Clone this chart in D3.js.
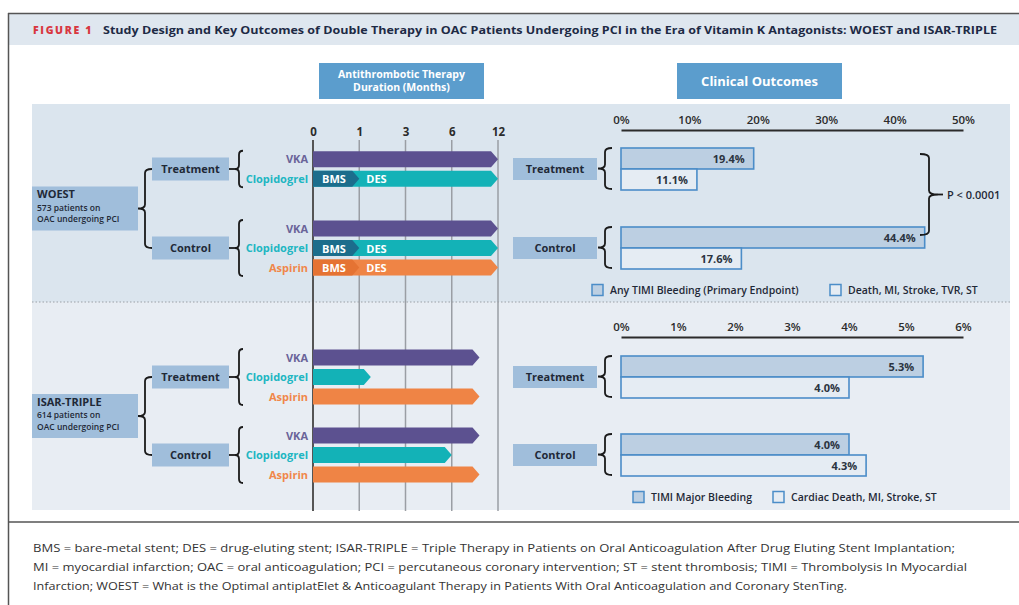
<!DOCTYPE html>
<html>
<head>
<meta charset="utf-8">
<script src="https://cdn.jsdelivr.net/npm/d3@7"></script>
<style>
  body { margin: 0; background: #fff; }
  svg text { font-family: "Open Sans", "Noto Sans", sans-serif; }
</style>
</head>
<body>
<svg id="fig"></svg>
<script>
// ---- data ----
const monthTicks = [0, 1, 3, 6, 12];
const armNames = ["Treatment", "Control"];

const woestDrugs = [["VKA", "Clopidogrel"], ["VKA", "Clopidogrel", "Aspirin"]];
const woestMonths = [[12, 12], [12, 12, 12]];
const woestBmsMonths = [[0, 1], [0, 1, 1]];      // BMS part of the bar (0 = none)

const isarDrugs = [["VKA", "Clopidogrel", "Aspirin"], ["VKA", "Clopidogrel", "Aspirin"]];
const isarMonths = [[9.6, 1.5, 9.6], [9.6, 6, 9.6]];
const isarBmsMonths = [[0, 0, 0], [0, 0, 0]];

const woestPctTicks = [0, 10, 20, 30, 40, 50];
const woestBleeding = [19.4, 44.4];
const woestEvents = [11.1, 17.6];
const woestLegend = ["Any TIMI Bleeding (Primary Endpoint)", "Death, MI, Stroke, TVR, ST"];

const isarPctTicks = [0, 1, 2, 3, 4, 5, 6];
const isarBleeding = [5.3, 4.0];
const isarEvents = [4.0, 4.3];
const isarLegend = ["TIMI Major Bleeding", "Cardiac Death, MI, Stroke, ST"];

const pValue = "P < 0.0001";

const captionLines = [
  "BMS = bare-metal stent; DES = drug-eluting stent; ISAR-TRIPLE = Triple Therapy in Patients on Oral Anticoagulation After Drug Eluting Stent Implantation;",
  "MI = myocardial infarction; OAC = oral anticoagulation; PCI = percutaneous coronary intervention; ST = stent thrombosis; TIMI = Thrombolysis In Myocardial",
  "Infarction; WOEST = What is the Optimal antiplatElet & Anticoagulant Therapy in Patients With Oral Anticoagulation and Coronary StenTing."
];

// ---- layout ----
const W = 1019, H = 605;
const drugColor = {VKA: "#5c5190", Clopidogrel: "#13b2b7", Aspirin: "#ef8445"};
const bmsColor = {Clopidogrel: "#1c6d8c", Aspirin: "#e57333"};
const drugText = {VKA: "#6a6499", Clopidogrel: "#20b6c2", Aspirin: "#f0874a"};
const boxFill = "#a0bedb", darkText = "#1f2937", headBlue = "#5b9dcd";
const barStroke = "#4b8dc8", fillBleed = "#bccfe2", fillEvent = "#e5ecf3";

const panels = [
  {name: "WOEST", sub: ["573 patients on", "OAC undergoing PCI"], drugs: woestDrugs,
   months: woestMonths, bms: woestBmsMonths, armY: [169, 248], bg: "#dbe5ee",
   top: 104, bottom: 302, ticks: woestPctTicks, bleed: woestBleeding, events: woestEvents,
   legend: woestLegend, axisY: 130, legendY: 290, legendX: [592, 830], pval: true},
  {name: "ISAR-TRIPLE", sub: ["614 patients on", "OAC undergoing PCI"], drugs: isarDrugs,
   months: isarMonths, bms: isarBmsMonths, armY: [377, 455], bg: "#e8edf3",
   top: 302, bottom: 510, ticks: isarPctTicks, bleed: isarBleeding, events: isarEvents,
   legend: isarLegend, axisY: 337, legendY: 497, legendX: [633, 773], pval: false}
];

const svg = d3.select("#fig").attr("width", W).attr("height", H);

// month scale: equally spaced ticks, linear in between
const xMonth = d3.scaleLinear()
  .domain(monthTicks)
  .range(monthTicks.map((d, i) => 313 + i * 46.25));

const rowStep = 19.5, barH = 16, tipLen = 7;

function arrowPath(x0, x1, y, h) {
  return `M${x0},${y - h / 2}L${x1 - tipLen},${y - h / 2}L${x1},${y}L${x1 - tipLen},${y + h / 2}L${x0},${y + h / 2}Z`;
}

// curly brace: ends at xEnd, middle point at xTip
function brace(g, xTip, xEnd, y0, y1) {
  const xm = (xTip + xEnd) / 2, ym = (y0 + y1) / 2, r = 4;
  g.append("path")
    .attr("d", `M${xEnd},${y0}Q${xm},${y0} ${xm},${y0 + r}L${xm},${ym - r}Q${xm},${ym} ${xTip},${ym}` +
               `Q${xm},${ym} ${xm},${ym + r}L${xm},${y1 - r}Q${xm},${y1} ${xEnd},${y1}`)
    .attr("fill", "none").attr("stroke", "#1a1a1a").attr("stroke-width", 1.8);
}

// ---- frame and header ----
svg.append("rect").attr("x", 9).attr("y", 14).attr("width", W - 9).attr("height", 31).attr("fill", "#dfe7ef");
svg.append("line").attr("x1", 8).attr("x2", W).attr("y1", 13.5).attr("y2", 13.5).attr("stroke", "#555").attr("stroke-width", 1.5);
svg.append("line").attr("x1", 8.5).attr("x2", 8.5).attr("y1", 13).attr("y2", H).attr("stroke", "#555").attr("stroke-width", 1.5);
svg.append("line").attr("x1", 8).attr("x2", W).attr("y1", 522).attr("y2", 522).attr("stroke", "#555").attr("stroke-width", 1.5);

svg.append("text").attr("x", 33).attr("y", 33.5)
  .attr("font-size", 10.5).attr("font-weight", 800).attr("fill", "#d8373f").attr("letter-spacing", 1.6)
  .attr("textLength", 60).attr("lengthAdjust", "spacing")
  .text("FIGURE 1");
svg.append("text").attr("x", 103).attr("y", 33.5)
  .attr("font-size", 11).attr("font-weight", 700).attr("fill", "#1d2a45")
  .attr("textLength", 894).attr("lengthAdjust", "spacingAndGlyphs")
  .text("Study Design and Key Outcomes of Double Therapy in OAC Patients Undergoing PCI in the Era of Vitamin K Antagonists: WOEST and ISAR-TRIPLE");

// section headers
svg.append("rect").attr("x", 319).attr("y", 63).attr("width", 165).attr("height", 36).attr("fill", headBlue);
svg.append("text").attr("x", 401.5).attr("y", 77.5).attr("text-anchor", "middle")
  .attr("font-size", 10.5).attr("font-weight", 700).attr("fill", "#fff").text("Antithrombotic Therapy");
svg.append("text").attr("x", 401.5).attr("y", 90.5).attr("text-anchor", "middle")
  .attr("font-size", 10.5).attr("font-weight", 700).attr("fill", "#fff").text("Duration (Months)");
svg.append("rect").attr("x", 677).attr("y", 63).attr("width", 165).attr("height", 36).attr("fill", headBlue);
svg.append("text").attr("x", 759.5).attr("y", 85.5).attr("text-anchor", "middle")
  .attr("font-size", 13).attr("font-weight", 700).attr("fill", "#fff").text("Clinical Outcomes");

// panel backgrounds
panels.forEach(p => {
  svg.append("rect").attr("x", 32).attr("y", p.top).attr("width", 978).attr("height", p.bottom - p.top).attr("fill", p.bg);
});
svg.append("line").attr("x1", 32).attr("x2", 1010).attr("y1", 302).attr("y2", 302)
  .attr("stroke", "#9aa0a6").attr("stroke-width", 1).attr("stroke-dasharray", "1.5,2");

// month gridlines and axis
svg.append("g").selectAll("line").data(monthTicks).join("line")
  .attr("x1", d => xMonth(d)).attr("x2", d => xMonth(d))
  .attr("y1", 140).attr("y2", 511)
  .attr("stroke", d => d === 0 ? "#555" : "#9a9ea4")
  .attr("stroke-width", d => d === 0 ? 2 : 1.5);

const monthAxis = svg.append("g").attr("transform", "translate(0,140)")
  .call(d3.axisTop(xMonth).tickValues(monthTicks).tickSize(0).tickPadding(4).tickFormat(d3.format("d")));
monthAxis.select(".domain").remove();
monthAxis.selectAll("text").attr("font-size", 11.5).attr("font-weight", 700).attr("fill", "#2b2b2b")
  .attr("font-family", "'Open Sans', sans-serif");

// ---- panels ----
panels.forEach(p => {
  const g = svg.append("g");

  // study box
  const sy = (p.armY[0] + p.armY[1]) / 2;
  g.append("rect").attr("x", 32).attr("y", sy - 22).attr("width", 106).attr("height", 44).attr("fill", boxFill);
  g.append("text").attr("x", 37).attr("y", sy - 10.5).attr("font-size", 11).attr("font-weight", 700).attr("fill", darkText).text(p.name);
  p.sub.forEach((s, i) => g.append("text").attr("x", 37).attr("y", sy + 2 + i * 11.5)
    .attr("font-size", 8.5).attr("font-weight", 600).attr("fill", darkText).text(s));
  brace(g, 138, 152, p.armY[0], p.armY[1]);

  armNames.forEach((arm, a) => {
    const cy = p.armY[a];
    // arm box (left)
    g.append("rect").attr("x", 152).attr("y", cy - 11.5).attr("width", 77).attr("height", 23).attr("fill", boxFill);
    g.append("text").attr("x", 190.5).attr("y", cy + 4).attr("text-anchor", "middle")
      .attr("font-size", 11).attr("font-weight", 700).attr("fill", darkText).text(arm);

    const drugs = p.drugs[a];
    const rows = drugs.map((d, i) => cy + (i - (drugs.length - 1) / 2) * rowStep);
    g.append("line").attr("x1", 229).attr("x2", 235).attr("y1", cy).attr("y2", cy).attr("stroke", "#1a1a1a").attr("stroke-width", 1.8);
    brace(g, 235, 243, rows[0] - 8.5, rows[rows.length - 1] + 8.5);

    drugs.forEach((drug, i) => {
      const y = rows[i];
      g.append("text").attr("x", 308).attr("y", y + 4).attr("text-anchor", "end")
        .attr("font-size", 11).attr("font-weight", 700).attr("fill", drugText[drug]).text(drug);
      g.append("path").attr("d", arrowPath(xMonth(0), xMonth(p.months[a][i]), y, barH)).attr("fill", drugColor[drug]);
      if (p.bms[a][i] > 0) {
        g.append("path").attr("d", arrowPath(xMonth(0), xMonth(p.bms[a][i]), y, barH)).attr("fill", bmsColor[drug]);
        g.append("text").attr("x", xMonth(0) + 9).attr("y", y + 4.5)
          .attr("font-size", 11).attr("font-weight", 700).attr("fill", "#fff").text("BMS");
        g.append("text").attr("x", xMonth(p.bms[a][i]) + 7).attr("y", y + 4.5)
          .attr("font-size", 11).attr("font-weight", 700).attr("fill", "#fff").text("DES");
      }
    });

    // arm box (right, outcomes)
    g.append("rect").attr("x", 513).attr("y", cy - 11).attr("width", 84).attr("height", 22).attr("fill", boxFill);
    g.append("text").attr("x", 555).attr("y", cy + 4).attr("text-anchor", "middle")
      .attr("font-size", 11).attr("font-weight", 700).attr("fill", darkText).text(arm);
    brace(g, 598, 612, cy - 21, cy + 20);
  });

  // outcome scale and axis
  const xPct = d3.scaleLinear().domain([0, d3.max(p.ticks)]).range([621, 963]);
  const ax = g.append("g").attr("transform", `translate(0,${p.axisY})`)
    .call(d3.axisTop(xPct).tickValues(p.ticks).tickSize(0).tickPadding(6).tickFormat(d => d + "%"));
  ax.select(".domain").attr("stroke", "#2b2b2b").attr("stroke-width", 2);
  ax.selectAll("text").attr("font-size", 11.5).attr("font-weight", 600).attr("fill", "#2b2b2b")
    .attr("font-family", "'Open Sans', sans-serif");

  const y = d3.scaleBand().domain(["bleed", "events"]).range([-21, 21]);
  const series = [{key: "bleed", vals: p.bleed, fill: fillBleed}, {key: "events", vals: p.events, fill: fillEvent}];
  armNames.forEach((arm, a) => {
    series.forEach(s => {
      const v = s.vals[a];
      const top = p.armY[a] + y(s.key);
      g.append("rect").attr("x", xPct(0)).attr("y", top)
        .attr("width", xPct(v) - xPct(0)).attr("height", y.bandwidth())
        .attr("fill", s.fill).attr("stroke", barStroke).attr("stroke-width", 1.6);
      g.append("text").attr("x", xPct(v) - 9).attr("y", top + y.bandwidth() / 2 + 4)
        .attr("text-anchor", "end").attr("font-size", 11).attr("font-weight", 700).attr("fill", "#2b3340")
        .text(v.toFixed(1) + "%");
    });
  });

  // legend
  p.legend.forEach((lab, i) => {
    const lx = p.legendX[i];
    g.append("rect").attr("x", lx).attr("y", p.legendY - 5.5).attr("width", 11).attr("height", 11)
      .attr("fill", series[i].fill).attr("stroke", barStroke).attr("stroke-width", 1.5);
    g.append("text").attr("x", lx + 18).attr("y", p.legendY + 4)
      .attr("font-size", 10.5).attr("font-weight", 600).attr("fill", "#1f2937").text(lab);
  });

  if (p.pval) {
    brace(g, 938, 920, 154, 235);
    g.append("line").attr("x1", 938).attr("x2", 943).attr("y1", 194.5).attr("y2", 194.5).attr("stroke", "#1a1a1a").attr("stroke-width", 1.8);
    g.append("text").attr("x", 947).attr("y", 199)
      .attr("font-size", 11).attr("font-weight", 600).attr("fill", "#1f2937").text(pValue);
  }
});

// ---- caption ----
const capLen = [922, 934, 814];
captionLines.forEach((line, i) => {
  svg.append("text").attr("x", 33).attr("y", 552 + i * 19)
    .attr("font-size", 11.5).attr("fill", "#333")
    .attr("font-family", "'Liberation Sans Narrow', 'DejaVu Sans Condensed', sans-serif")
    .attr("textLength", capLen[i]).attr("lengthAdjust", "spacingAndGlyphs")
    .text(line);
});
</script>
</body>
</html>
